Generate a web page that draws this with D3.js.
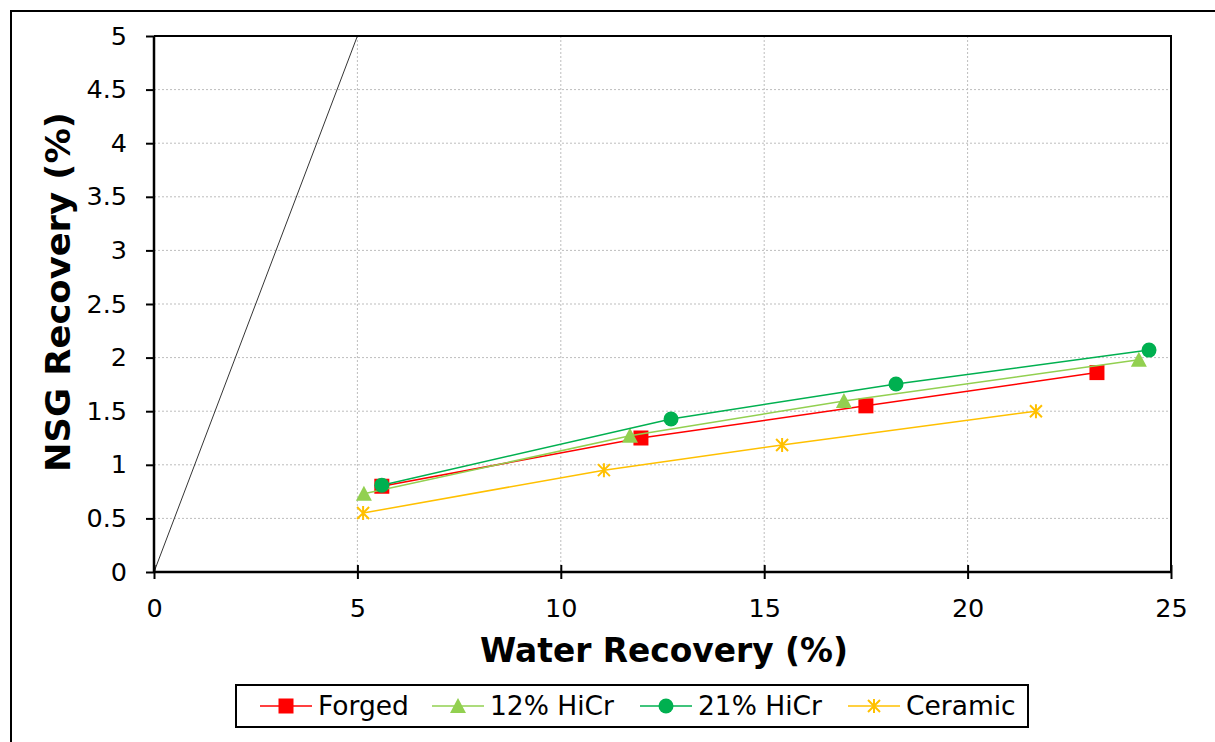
<!DOCTYPE html>
<html>
<head>
<meta charset="utf-8">
<script src="https://cdn.jsdelivr.net/npm/d3@7"></script>
<style>
  body { margin: 0; background: #fff; }
  svg { display: block; font-family: "DejaVu Sans", Verdana, sans-serif; }
</style>
</head>
<body>
<svg id="chart" width="1215" height="742"></svg>
<script>
(function () {
    // data
    const seriesNames = ["Forged", "12% HiCr", "21% HiCr", "Ceramic"]
    const forgedWater = [5.6, 11.97, 17.5, 23.18]
    const forgedNsg = [0.80, 1.25, 1.55, 1.86]
    const hicr12Water = [5.16, 11.7, 16.96, 24.21]
    const hicr12Nsg = [0.73, 1.27, 1.595, 1.98]
    const hicr21Water = [5.6, 12.71, 18.24, 24.46]
    const hicr21Nsg = [0.81, 1.427, 1.754, 2.07]
    const ceramicWater = [5.14, 11.06, 15.44, 21.68]
    const ceramicNsg = [0.55, 0.95, 1.185, 1.50]
    const parityLine = [[0, 0], [5, 5]]
    const xTicks = [0, 5, 10, 15, 20, 25]
    const yTicks = [0, 0.5, 1, 1.5, 2, 2.5, 3, 3.5, 4, 4.5, 5]

    const colors = ["#FF0000", "#92D050", "#00B050", "#FFC000"]
    const shapes = ["square", "triangle", "circle", "star"]

    const series = [
        [forgedWater, forgedNsg],
        [hicr12Water, hicr12Nsg],
        [hicr21Water, hicr21Nsg],
        [ceramicWater, ceramicNsg]
    ].map((s, i) => ({
        name: seriesNames[i],
        color: colors[i],
        shape: shapes[i],
        points: s[0].map((w, j) => [w, s[1][j]])
    }))

    const left = 154, right = 1171, top = 36, bottom = 572

    const svg = d3.select("#chart")

    // outer frame of the chart object
    svg.append("rect")
        .attr("x", 11).attr("y", 11)
        .attr("width", 1230).attr("height", 760)
        .attr("fill", "none").attr("stroke", "#000").attr("stroke-width", 2)

    const x = d3.scaleLinear().domain([0, 25]).range([left, right])
    const y = d3.scaleLinear().domain([0, 5]).range([bottom, top])

    // dotted gridlines
    const grid = svg.append("g")
    grid.selectAll(".vg").data(xTicks.slice(1, -1)).enter().append("line")
        .attr("x1", d => x(d)).attr("x2", d => x(d))
        .attr("y1", top).attr("y2", bottom)
    grid.selectAll(".hg").data(yTicks.slice(1, -1)).enter().append("line")
        .attr("x1", left).attr("x2", right)
        .attr("y1", d => y(d)).attr("y2", d => y(d))
    grid.selectAll("line")
        .attr("stroke", "#bdbdbd").attr("stroke-width", 1)
        .attr("stroke-dasharray", "2,2")

    // plot border (top and right)
    svg.append("path")
        .attr("d", `M${left},${top}H${right}V${bottom}`)
        .attr("fill", "none").attr("stroke", "#000").attr("stroke-width", 2)

    // axes
    const xAxis = svg.append("g")
        .attr("transform", `translate(0,${bottom})`)
        .call(d3.axisBottom(x).tickValues(xTicks).tickSize(7).tickPadding(20)
            .tickFormat(d3.format("d")))
    xAxis.selectAll(".tick line").attr("y1", -7)
    const yAxis = svg.append("g")
        .attr("transform", `translate(${left},0)`)
        .call(d3.axisLeft(y).tickValues(yTicks).tickSize(8).tickPadding(19)
            .tickFormat(d => String(d)))
    for (const ax of [xAxis, yAxis]) {
        ax.select(".domain").attr("stroke", "#000").attr("stroke-width", 2.5)
        ax.selectAll(".tick line").attr("stroke", "#000").attr("stroke-width", 2)
        ax.selectAll(".tick text")
            .attr("font-family", "DejaVu Sans, sans-serif")
            .attr("font-size", 25.5).attr("fill", "#000")
    }
    xAxis.select(".domain").attr("d", `M${left},0H${right}`)
    yAxis.select(".domain").attr("d", `M0,${top}V${bottom}`)

    const line = d3.line().x(d => x(d[0])).y(d => y(d[1]))

    // 1:1 reference line
    svg.append("path").datum(parityLine)
        .attr("d", line)
        .attr("fill", "none").attr("stroke", "#000").attr("stroke-width", 0.8)

    function marker(g, shape, color) {
        if (shape === "square") {
            g.append("rect").attr("x", -7.5).attr("y", -7.5)
                .attr("width", 15).attr("height", 15).attr("fill", color)
        } else if (shape === "triangle") {
            g.append("path").attr("d", "M0,-8L8,7L-8,7Z").attr("fill", color)
        } else if (shape === "circle") {
            g.append("circle").attr("r", 7.5).attr("fill", color)
        } else {
            g.append("path")
                .attr("d", "M0,-7V7M-6,-6L6,6M-6,6L6,-6")
                .attr("stroke", color).attr("stroke-width", 2).attr("fill", "none")
        }
    }

    // series lines and markers
    series.forEach(s => {
        const g = svg.append("g")
        g.append("path").datum(s.points)
            .attr("d", line)
            .attr("fill", "none").attr("stroke", s.color).attr("stroke-width", 1.5)
        g.selectAll(".pt").data(s.points).enter().append("g")
            .attr("transform", d => `translate(${x(d[0])},${y(d[1])})`)
            .each(function () { marker(d3.select(this), s.shape, s.color) })
    })

    // axis titles
    svg.append("text")
        .attr("x", 664).attr("y", 662)
        .attr("text-anchor", "middle")
        .attr("font-size", 33).attr("font-weight", "bold")
        .attr("textLength", 368).attr("lengthAdjust", "spacingAndGlyphs")
        .text("Water Recovery (%)")
    svg.append("text")
        .attr("transform", "translate(70,292) rotate(-90)")
        .attr("text-anchor", "middle")
        .attr("font-size", 33).attr("font-weight", "bold")
        .attr("textLength", 360).attr("lengthAdjust", "spacingAndGlyphs")
        .text("NSG Recovery (%)")

    // legend
    const legendX = [260, 432, 640, 848]
    const legend = svg.append("g")
    legend.append("rect")
        .attr("x", 236).attr("y", 685).attr("width", 792).attr("height", 42)
        .attr("fill", "#fff").attr("stroke", "#000").attr("stroke-width", 2)
    series.forEach((s, i) => {
        const g = legend.append("g").attr("transform", `translate(${legendX[i]},706)`)
        g.append("line").attr("x1", 0).attr("x2", 52)
            .attr("stroke", s.color).attr("stroke-width", 1.5)
        marker(g.append("g").attr("transform", "translate(26,0)"), s.shape, s.color)
        g.append("text").attr("x", 58).attr("dy", "0.35em")
            .attr("font-size", 26.5).text(s.name)
    })
})();
</script>
</body>
</html>
